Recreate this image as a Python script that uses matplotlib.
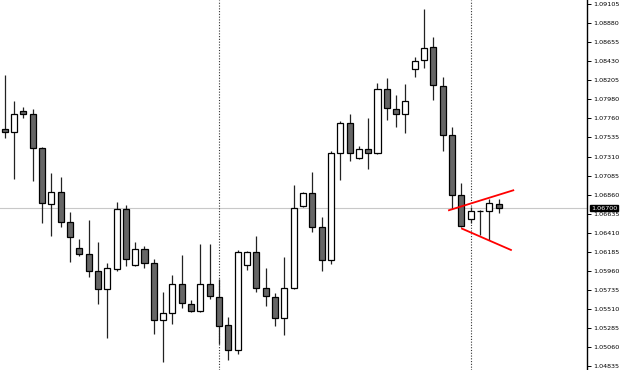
import matplotlib
matplotlib.use("Agg")
import matplotlib.pyplot as plt
import numpy as np

# OHLC data
opens = [1.07626, 1.07593, 1.07847, 1.07805, 1.07404, 1.06751, 1.06886, 1.06539, 1.06226, 1.06155,
         1.05955, 1.05742, 1.05985, 1.06685, 1.06025, 1.06214, 1.06049, 1.05377, 1.05460, 1.05801,
         1.05573, 1.05483, 1.05801, 1.05652, 1.05318, 1.05031, 1.06029, 1.06179, 1.05754, 1.05655,
         1.05408, 1.05754, 1.06728, 1.06874, 1.06473, 1.06088, 1.07345, 1.07699, 1.07286, 1.07393,
         1.07345, 1.08100, 1.07864, 1.07805, 1.08342, 1.08441, 1.08595, 1.08142, 1.07558, 1.06850,
         1.06571, 1.06663, 1.06669, 1.06744]
highs = [1.08268, 1.07962, 1.07888, 1.07864, 1.07416, 1.07110, 1.07066, 1.06650, 1.06335, 1.06556,
         1.06300, 1.06056, 1.06768, 1.06740, 1.06300, 1.06256, 1.06096, 1.05707, 1.05915, 1.06143,
         1.05616, 1.06276, 1.06276, 1.05860, 1.05416, 1.06202, 1.06188, 1.06371, 1.05997, 1.05702,
         1.06120, 1.06968, 1.06893, 1.07121, 1.06598, 1.07372, 1.07723, 1.07805, 1.07428, 1.07758,
         1.08174, 1.08229, 1.08032, 1.08162, 1.08477, 1.09050, 1.08716, 1.08245, 1.07655, 1.06995,
         1.06712, 1.06674, 1.06803, 1.06803]
lows = [1.07529, 1.07039, 1.07758, 1.07022, 1.06527, 1.06374, 1.06473, 1.06064, 1.06138, 1.05884,
        1.05573, 1.05172, 1.05962, 1.06017, 1.06017, 1.05997, 1.05216, 1.04889, 1.05337, 1.05519,
        1.05475, 1.05475, 1.05625, 1.05098, 1.04906, 1.04980, 1.05966, 1.05707, 1.05546, 1.05310,
        1.05207, 1.05746, 1.06712, 1.06414, 1.05962, 1.06041, 1.07031, 1.07251, 1.07278, 1.07160,
        1.07334, 1.07734, 1.07652, 1.07581, 1.08248, 1.08354, 1.07974, 1.07376, 1.06685, 1.06477,
        1.06520, 1.06382, 1.06324, 1.06645]
closes = [1.07596, 1.07805, 1.07805, 1.07404, 1.06756, 1.06886, 1.06539, 1.06355, 1.06155, 1.05955,
          1.05742, 1.05997, 1.06685, 1.06103, 1.06214, 1.06052, 1.05377, 1.05460, 1.05801, 1.05577,
          1.05483, 1.05801, 1.05660, 1.05313, 1.05024, 1.06179, 1.06179, 1.05754, 1.05660, 1.05408,
          1.05754, 1.06704, 1.06874, 1.06473, 1.06088, 1.07345, 1.07699, 1.07345, 1.07393, 1.07345,
          1.08100, 1.07876, 1.07805, 1.07958, 1.08433, 1.08590, 1.08147, 1.07561, 1.06850, 1.06485,
          1.06665, 1.06665, 1.06756, 1.06700]

current_price = 1.06700
current_label = "1.06700"
vline_bars = [23, 50]

# Triangle trend lines (bar index, price)
upper_line_x = [47.67, 54.57]
upper_line_y = [1.06674, 1.06909]
lower_line_x = [49.07, 54.32]
lower_line_y = [1.06457, 1.06206]

tick_labels = ["1.09105", "1.08880", "1.08655", "1.08430", "1.08205", "1.07980", "1.07760",
               "1.07535", "1.07310", "1.07085", "1.06860", "1.06635", "1.06410", "1.06185",
               "1.05960", "1.05735", "1.05510", "1.05285", "1.05060", "1.04835"]
tick_top, tick_bottom = 1.09105, 1.04835

fig = plt.figure(figsize=(6.25, 3.70), dpi=100)
ax = fig.add_axes([0, 0, 587 / 625, 1])

x = np.arange(len(opens))
o = np.array(opens); h = np.array(highs); l = np.array(lows); c = np.array(closes)

# current price line
ax.axhline(current_price, color="#c8c8c8", linewidth=0.8, zorder=1)

# vertical dotted separators
for vb in vline_bars:
    ax.axvline(vb, color="#333333", linestyle=(0, (1, 1.5)), linewidth=0.8, zorder=1)

# wicks
ax.vlines(x, l, h, color="#222222", linewidth=0.9, zorder=2)

# bodies
bull = c >= o
bottoms = np.minimum(o, c)
heights = np.abs(c - o)
heights = np.maximum(heights, 0.00003)
ax.bar(x[bull], heights[bull], bottom=bottoms[bull], width=0.65,
       color="white", edgecolor="black", linewidth=0.9, zorder=3)
ax.bar(x[~bull], heights[~bull], bottom=bottoms[~bull], width=0.65,
       color="#666666", edgecolor="black", linewidth=0.9, zorder=3)

# red triangle lines
ax.plot(upper_line_x, upper_line_y, color="#ff0000", linewidth=1.3, zorder=4)
ax.plot(lower_line_x, lower_line_y, color="#ff0000", linewidth=1.3, zorder=4)

# axes limits
ax.set_xlim(-0.504, 62.48)
ax.set_ylim(1.04791, 1.09152)

# y-axis on right
ax.yaxis.tick_right()
ticks = np.linspace(tick_top, tick_bottom, len(tick_labels))
ax.set_yticks(ticks)
ax.set_yticklabels(tick_labels)
ax.tick_params(axis="y", direction="out", length=3, width=0.7, pad=1.5,
               labelsize=4.6, colors="black")
ax.set_xticks([])
for s in ["top", "left", "bottom"]:
    ax.spines[s].set_visible(False)
ax.spines["right"].set_linewidth(1.0)

# current price label
ax.annotate(current_label, xy=(1.0, current_price), xycoords=("axes fraction", "data"),
            xytext=(3, 0), textcoords="offset points", ha="left", va="center",
            fontsize=4.6, color="white",
            bbox=dict(boxstyle="square,pad=0.15", fc="black", ec="black"))

fig.savefig("out.png", dpi=100)
